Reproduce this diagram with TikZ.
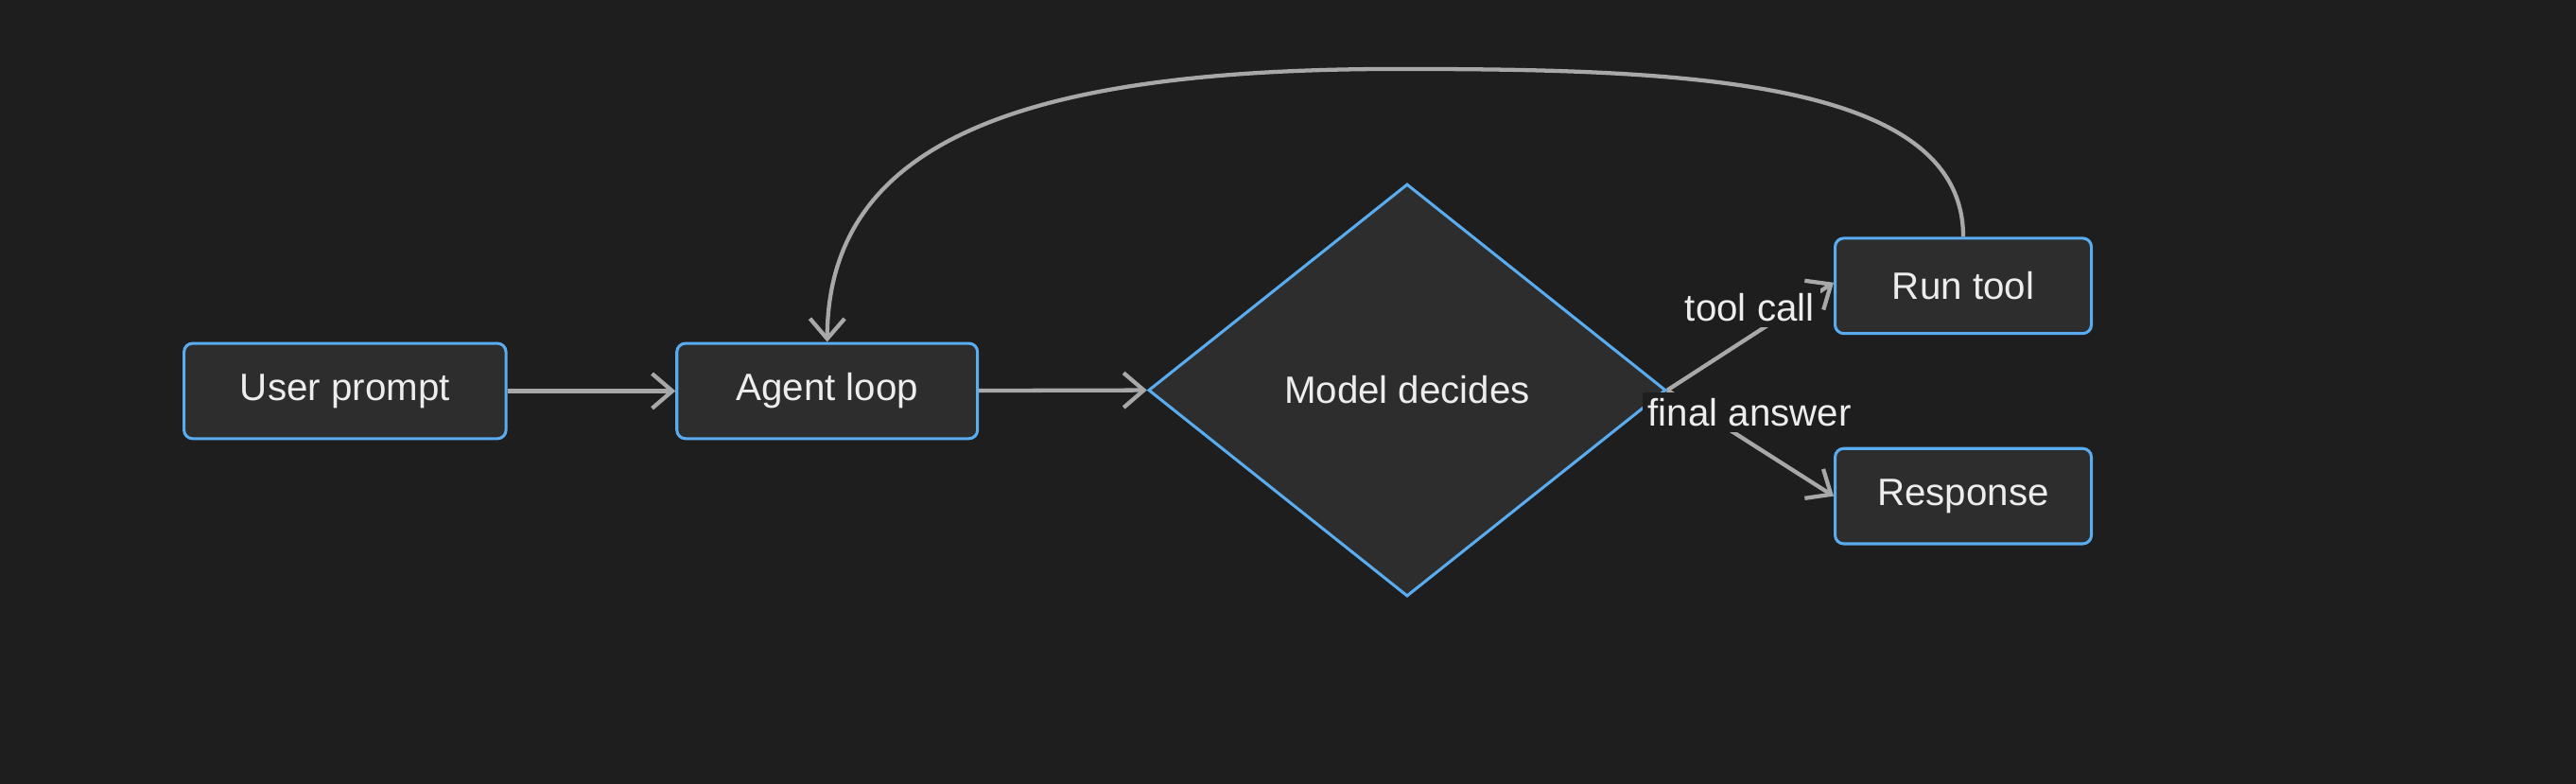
\documentclass[tikz,border=0pt]{standalone}
\usepackage{fontspec}
\setmainfont{Liberation Sans}
\usetikzlibrary{positioning,shapes.geometric,arrows.meta}
\definecolor{bgcol}{HTML}{1E1E1E}
\definecolor{boxcol}{HTML}{2D2D2D}
\definecolor{edgecol}{HTML}{5AACF0}
\definecolor{linecol}{HTML}{A8A8A8}
\definecolor{txtcol}{HTML}{EDEDED}

\begin{document}
\begin{tikzpicture}[
        >={Straight Barb[length=3.5pt,width=6pt]},
        font=\fontsize{6.6}{8}\selectfont,
        stage/.style={draw=edgecol, fill=boxcol, rounded corners=1.5pt, text=txtcol,
            minimum height=0.58cm, line width=0.5pt},
        decide/.style={draw=edgecol, fill=boxcol, diamond, text=txtcol, aspect=1.25,
            minimum width=3.15cm, minimum height=2.51cm, inner sep=0pt, line width=0.5pt},
        flow/.style={->, draw=linecol, line width=0.7pt},
        tag/.style={fill=bgcol, text=txtcol, inner sep=1pt},
    ]
    \fill[bgcol] (0,0) rectangle (15.68,4.77);
    \useasboundingbox (0,0) rectangle (15.68,4.77);

    \node[stage, minimum width=1.96cm] (user) at (2.10,2.39) {User prompt};
    \node[stage, minimum width=1.83cm] (agent) at (5.035,2.39) {Agent loop};
    \node[decide] (model) at (8.565,2.395) {Model decides};
    \node[stage, minimum width=1.56cm] (run) at (11.95,3.03) {Run tool};
    \node[stage, minimum width=1.56cm] (resp) at (11.95,1.75) {Response};

    \draw[flow] (model.east) -- (run.west |- 0,3.05);
    \draw[flow] (model.east) -- (resp.west |- 0,1.75);
    \node[tag] (callTag) at (10.65,2.90) {tool call};
    \node[tag] (answerTag) at (10.65,2.26) {final answer};

    \draw[flow] (user) -- (agent);
    \draw[flow] (agent) -- (model.west);
    \draw[flow] (run.north) .. controls (11.95,4.3) and (10.2,4.35) .. (8.5,4.35)
        .. controls (6.2,4.35) and (5.04,3.9) .. (agent.north);
\end{tikzpicture}
\end{document}
